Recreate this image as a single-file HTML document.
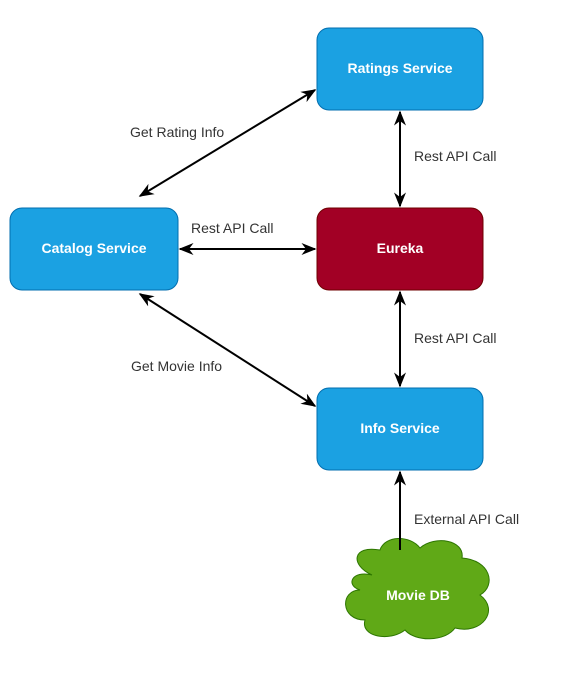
<!DOCTYPE html>
<html><head><meta charset="utf-8"><style>body{margin:0;background:#fff}svg{display:block}text{font-family:"Liberation Sans",Arial,sans-serif}</style></head><body>
<svg width="581" height="674" viewBox="0 0 581 674" xmlns="http://www.w3.org/2000/svg">
<defs><marker id="a" viewBox="0 0 10 10" refX="9" refY="5" markerWidth="15" markerHeight="15" orient="auto-start-reverse" markerUnits="userSpaceOnUse"><path d="M0,1 L10,5 L0,9 L3,5 Z" fill="#000"/></marker></defs>
<g fill="#1ba1e2" stroke="#006eaf" stroke-width="1">
<rect x="317" y="28" width="166" height="82" rx="12"/>
<rect x="10" y="208" width="168" height="82" rx="12"/>
<rect x="317" y="388" width="166" height="82" rx="12"/>
</g>
<rect x="317" y="208" width="166" height="82" rx="12" fill="#a20025" stroke="#6f0000"/>
<path d="M372,575 C350,565 352,545 380,550 C385,535 410,535 420,548 C435,535 465,540 462,558 C490,560 497,585 480,595 C500,610 482,635 455,628 C445,642 415,642 405,630 C390,642 360,637 365,620 C340,620 340,590 360,590 C345,585 352,570 372,575 Z" fill="#60a917" stroke="#2d7600"/>
<g stroke="#000" stroke-width="2" fill="none" marker-start="url(#a)" marker-end="url(#a)">
<line x1="400" y1="112" x2="400" y2="206"/>
<line x1="400" y1="292" x2="400" y2="386"/>
<line x1="180" y1="249" x2="315" y2="249"/>
<line x1="140" y1="196" x2="315" y2="90"/>
<line x1="140" y1="294" x2="315" y2="406"/>
</g>
<line x1="400" y1="550" x2="400" y2="472" stroke="#000" stroke-width="2" marker-end="url(#a)"/>
<g fill="#fff" font-weight="bold" font-size="14" text-anchor="middle">
<text x="400" y="73">Ratings Service</text>
<text x="94" y="253">Catalog Service</text>
<text x="400" y="253">Eureka</text>
<text x="400" y="433">Info Service</text>
<text x="418" y="600">Movie DB</text>
</g>
<g fill="#333" font-size="14">
<text x="414" y="161">Rest API Call</text>
<text x="414" y="343">Rest API Call</text>
<text x="191" y="233">Rest API Call</text>
<text x="130" y="137">Get Rating Info</text>
<text x="131" y="371">Get Movie Info</text>
<text x="414" y="524">External API Call</text>
</g>
</svg>
</body></html>
